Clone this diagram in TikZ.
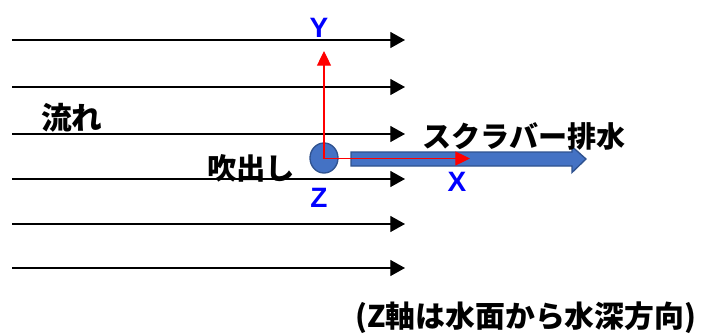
\documentclass[tikz,border=0pt]{standalone}
\usepackage{fontspec}
\setmainfont{Liberation Sans}
\newfontfamily\jp{Noto Sans CJK JP}
\usetikzlibrary{arrows.meta,shapes.geometric}
\definecolor{axisblue}{HTML}{0000FF}
\definecolor{blobfill}{HTML}{4472C4}
\definecolor{blobedge}{HTML}{2F528F}
\tikzset{
  flow/.style={black, line width=0.9pt, -{Triangle[length=11pt,width=12pt]}},
  axis/.style={red, line width=0.9pt, -{Triangle[length=11pt,width=10.5pt]}},
  axlabel/.style={text=axisblue, font=\fontsize{21}{24}\selectfont\bfseries, inner sep=0pt},
  jlabel/.style={inner sep=0pt, anchor=west},
  blob/.style={ellipse, draw=blobedge, fill=blobfill, line width=1pt, minimum width=21pt, minimum height=22.5pt, inner sep=0pt},
}
\begin{document}
\begin{tikzpicture}[x=0.75pt,y=-0.75pt]
\useasboundingbox (0,0) rectangle (715,336);
% flow lines
\foreach \i/\yy in {1/40,2/87,3/134,4/179,5/224,6/268}{
  \coordinate (s\i) at (12,\yy);
  \coordinate (e\i) at (405,\yy);
  \draw[flow] (s\i) -- (e\i);
}
% blowout
\node[blob] (blow) at (324,158) {};
\coordinate (o) at (324,158.5);
% block arrow
\draw[blobedge, fill=blobfill, line width=1pt]
  (351,152) -- (572,152) -- (572,146.5) -- (586,159) -- (572,172.5) -- (572,166) -- (351,166) -- cycle;
% axes
\coordinate (ytip) at (324,51);
\coordinate (xtip) at (470,158.5);
\draw[axis] (o) -- (ytip);
\draw[axis] (o) -- (xtip);
\node[axlabel] (Y) at (319,28) {Y};
\node[axlabel] (Z) at (319,198) {Z};
\node[axlabel] (X) at (457,182) {X};
% labels
\node[jlabel, font=\fontsize{23}{26}\selectfont\jp\bfseries] (flowlbl) at (41,118) {流れ};
\node[jlabel, font=\fontsize{22}{26}\selectfont\jp\bfseries] (blowlbl) at (207,168) {吹出し};
\node[jlabel, font=\fontsize{21.8}{26}\selectfont\jp\bfseries] (scrub) at (422,136) {スクラバー排水};
\node[jlabel, font=\fontsize{22.4}{26}\selectfont\jp\bfseries] (note) at (355,318) {(Z軸は水面から水深方向)};
\end{tikzpicture}
\end{document}
